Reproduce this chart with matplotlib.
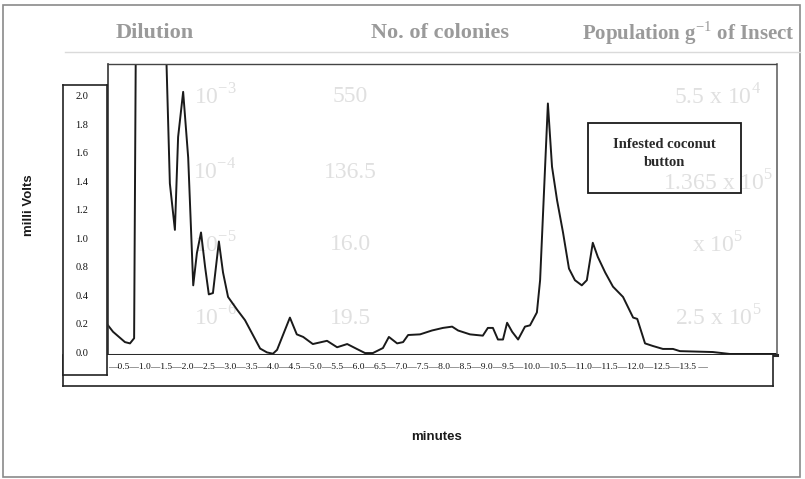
import numpy as np
import matplotlib
matplotlib.use("Agg")
import matplotlib.pyplot as plt
from matplotlib.patches import Rectangle

# ---------------- data ----------------
time_min = [0.00, 0.11, 0.37, 0.48, 0.57, 0.61, 1.25, 1.35, 1.46, 1.53, 1.64,
            1.75, 1.86, 1.94, 2.03, 2.12, 2.20, 2.29, 2.42, 2.51, 2.62, 2.82,
            2.99, 3.14, 3.32, 3.47, 3.60, 3.69, 3.97, 4.12, 4.26, 4.47, 4.78,
            5.00, 5.22, 5.43, 5.61, 5.78, 6.00, 6.13, 6.31, 6.44, 6.55, 6.81,
            7.07, 7.31, 7.51, 7.64, 7.90, 8.18, 8.29, 8.40, 8.51, 8.62, 8.71,
            8.82, 8.95, 9.10, 9.21, 9.36, 9.43, 9.60, 9.69, 9.80, 9.93, 10.06,
            10.19, 10.34, 10.45, 10.58, 10.69, 10.85, 11.02, 11.24, 11.35,
            11.46, 11.55, 11.72, 11.89, 12.11, 12.33, 12.48, 13.20, 13.57, 14.60]
millivolts = [0.23, 0.18, 0.10, 0.09, 0.13, 2.60, 2.60, 1.33, 0.97, 1.69, 2.04,
              1.53, 0.54, 0.79, 0.95, 0.68, 0.47, 0.48, 0.88, 0.64, 0.45, 0.35,
              0.27, 0.17, 0.05, 0.02, 0.01, 0.04, 0.29, 0.16, 0.14, 0.085, 0.11,
              0.06, 0.085, 0.047, 0.015, 0.015, 0.054, 0.14, 0.09, 0.10, 0.155, 0.16,
              0.19, 0.21, 0.22, 0.19, 0.16, 0.15, 0.21, 0.21, 0.12, 0.12, 0.25,
              0.18, 0.12, 0.22, 0.23, 0.33, 0.58, 1.95, 1.46, 1.20, 0.95, 0.67,
              0.58, 0.54, 0.58, 0.87, 0.76, 0.64, 0.53, 0.45, 0.37,
              0.29, 0.28, 0.09, 0.07, 0.047, 0.047, 0.03, 0.023, 0.008, 0.008]

y_tick_labels = ["2.0", "1.8", "1.6", "1.4", "1.2", "1.0", "0.8", "0.4", "0.2", "0.0"]
x_tick_labels = ["0.5", "1.0", "1.5", "2.0", "2.5", "3.0", "3.5", "4.0", "4.5",
                 "5.0", "5.5", "6.0", "6.5", "7.0", "7.5", "8.0", "8.5", "9.0",
                 "9.5", "10.0", "10.5", "11.0", "11.5", "12.0", "12.5", "13.5"]
legend_lines = ["Infested coconut", "button"]
x_label = "minutes"
y_label = "milli Volts"

# faint show-through text from the other side of the scanned page
header_cols = ["Dilution", "No. of colonies", "Population g$^{-1}$ of Insect"]
show_rows = [["10$^{-3}$", "550", "5.5 x 10$^{4}$"],
             ["10$^{-4}$", "136.5", "1.365 x 10$^{5}$"],
             ["10$^{-5}$", "16.0", "x 10$^{5}$"],
             ["10$^{-6}$", "19.5", "2.5 x 10$^{5}$"]]

# ---------------- layout ----------------
W, H, DPI = 805, 479, 100
fig = plt.figure(figsize=(W / DPI, H / DPI), dpi=DPI)
fig.patch.set_facecolor("white")
SERIF = ["Liberation Serif", "DejaVu Serif"]
SANS = ["Liberation Sans", "DejaVu Sans"]
plt.rcParams["mathtext.fontset"] = "custom"
plt.rcParams["mathtext.rm"] = "Liberation Serif"


def px_box(l, t, r, b):
    return [l / W, 1 - b / H, (r - l) / W, (b - t) / H]


def fx(px):
    return px / W


def fy(py):
    return 1 - py / H


# outer scan frame
fig.add_artist(Rectangle((fx(3), fy(477)), fx(800) - fx(3), fy(5) - fy(477),
                         transform=fig.transFigure, fill=False,
                         edgecolor="#8a8a8a", lw=1.2, zorder=-5))
# faint rule under header of the other page
fig.add_artist(plt.Line2D([fx(65), fx(800)], [fy(52), fy(52)],
                          transform=fig.transFigure, color="#dadada", lw=1, zorder=-5))

# show-through header
for txt, xc, fs in zip(header_cols, [155, 440, 688], [16, 16, 15]):
    fig.text(fx(xc), fy(33), txt, ha="center", va="center", fontsize=fs,
             family=SERIF, weight="bold", color="#9a9a9a", zorder=-4)
row_y = [97, 172, 245, 318]
for i, (row, yc) in enumerate(zip(show_rows, row_y)):
    for j, (txt, xc) in enumerate(zip(row, [215, 350, 718])):
        yy = yc
        if i == 1 and j == 2:
            yy = yc + 11  # nudge so it clears the legend text
        fig.text(fx(xc), fy(yy), txt, ha="center", va="center", fontsize=17,
                 family=SERIF, color="#e0e0e0", zorder=-4)

# main plot area
ax = fig.add_axes(px_box(108, 64, 777, 355))
ax.patch.set_alpha(0)
ax.plot(time_min, millivolts, color="#1a1a1a", lw=1.4, solid_joinstyle="round")
ax.set_xlim(0, 14.6)
ax.set_ylim(0, 2.256)
ax.set_xticks([])
ax.set_yticks([])
ax.spines["top"].set_linestyle((0, (1, 1)))
ax.spines["top"].set_color("#444444")
ax.spines["top"].set_linewidth(1.0)
ax.spines["right"].set_color("#666666")
ax.spines["right"].set_linewidth(1.2)
ax.spines["left"].set_color("#333333")
ax.spines["left"].set_linewidth(1.2)
ax.spines["bottom"].set_color("#2a2a2a")
ax.spines["bottom"].set_linewidth(2.2)

# legend box (text box in the plot)
fig.add_artist(Rectangle((fx(588), fy(193)), fx(741) - fx(588), fy(123) - fy(193),
                         transform=fig.transFigure, fill=False,
                         edgecolor="#1a1a1a", lw=1.3))
fig.text(fx(664), fy(145), legend_lines[0], ha="center", va="center",
         fontsize=10.5, family=SERIF, weight="bold", color="#2a2a2a")
fig.text(fx(664), fy(163), legend_lines[1], ha="center", va="center",
         fontsize=10.5, family=SERIF, weight="bold", color="#2a2a2a")

# x tick-label strip
axx = fig.add_axes(px_box(63, 355, 773, 386))
axx.set_xticks([])
axx.set_yticks([])
axx.spines["top"].set_visible(False)
for s in ["left", "right", "bottom"]:
    axx.spines[s].set_color("#222222")
    axx.spines[s].set_linewidth(1.2)
tick_str = "\u2014" + "\u2014".join(x_tick_labels) + " \u2014"
tk = fig.text(fx(108), fy(367), tick_str, ha="left", va="center",
              fontsize=6.5, family=SERIF, color="#111111")

# y tick-label box
axy = fig.add_axes(px_box(63, 85, 107, 375))
axy.set_xticks([])
axy.set_yticks([])
for s in axy.spines.values():
    s.set_color("#222222")
    s.set_linewidth(1.2)
for lab, yy in zip(y_tick_labels, np.linspace(97, 353, len(y_tick_labels))):
    fig.text(fx(82), fy(yy), lab, ha="center", va="center", fontsize=7.5,
             family=SERIF, color="#111111")

# axis titles
fig.text(fx(29), fy(205), y_label, rotation=90, ha="center", va="center",
         fontsize=9.5, family=SANS, weight="bold", color="#1a1a1a")
fig.text(fx(436), fy(437), x_label, ha="center", va="center",
         fontsize=9.5, family=SANS, weight="bold", color="#1a1a1a")

# fit tick string to measured width
fig.canvas.draw()
bb = tk.get_window_extent(fig.canvas.get_renderer())
tk.set_fontsize(6.5 * 595 / bb.width)

fig.savefig("out.png", dpi=DPI)
